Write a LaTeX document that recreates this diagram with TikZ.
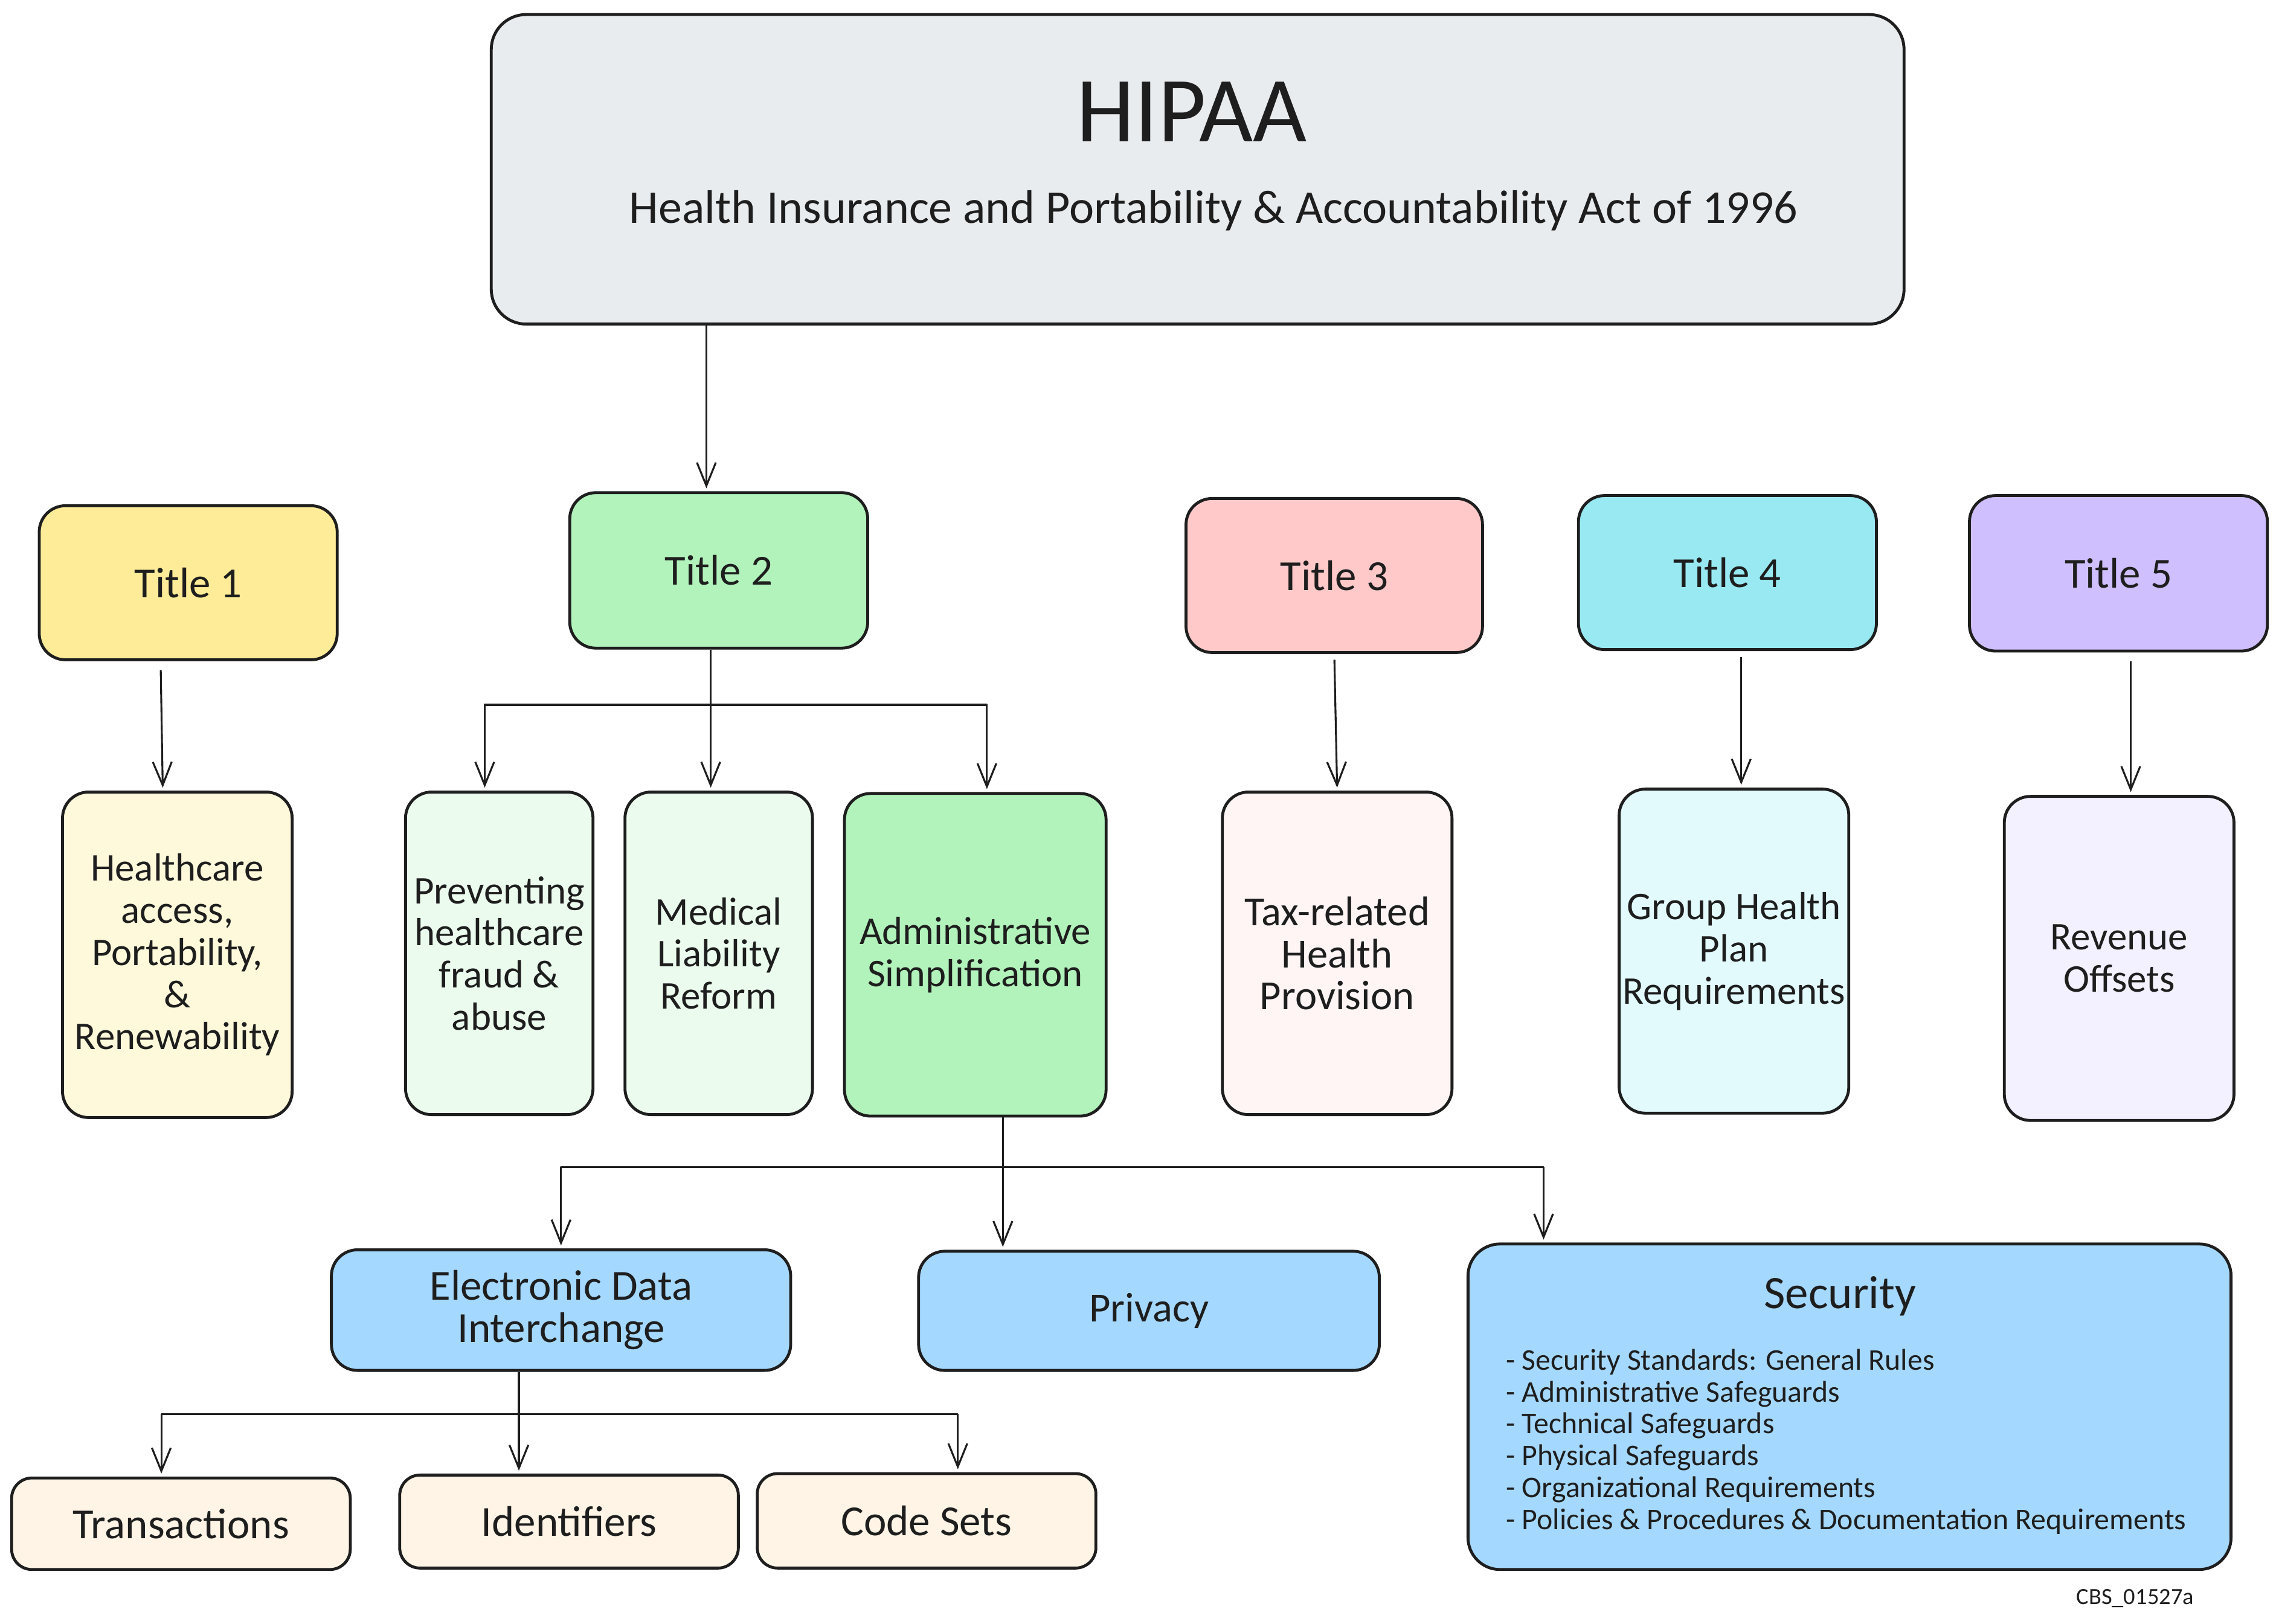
\documentclass[tikz,border=0pt]{standalone}
\usepackage{fontspec}
\setmainfont{Carlito}
\usetikzlibrary{arrows.meta,calc}
\definecolor{ink}{HTML}{1E1E1E}
\definecolor{cTop}{HTML}{E9ECEF}
\definecolor{cYel}{HTML}{FFEC99}
\definecolor{cGrn}{HTML}{B2F2BB}
\definecolor{cRed}{HTML}{FFC9C9}
\definecolor{cCya}{HTML}{99E9F2}
\definecolor{cVio}{HTML}{D0BFFF}
\definecolor{cYelL}{HTML}{FFF9DB}
\definecolor{cGrnL}{HTML}{EBFBEE}
\definecolor{cRedL}{HTML}{FFF5F5}
\definecolor{cCyaL}{HTML}{E3FAFC}
\definecolor{cVioL}{HTML}{F3F0FF}
\definecolor{cBlue}{HTML}{A5D8FF}
\definecolor{cOra}{HTML}{FFF4E6}
\begin{document}
\begin{tikzpicture}[x=1pt,y=-1pt,
  box/.style={draw=ink, line width=2pt, rounded corners=18pt, align=center, text=ink, inner sep=0pt, font=\fontsize{27}{29}\selectfont},
  big/.style={font=\fontsize{29.5}{29}\selectfont},
  arr/.style={draw=ink, line width=1.3pt, line join=round, shorten >=2pt, -{Straight Barb[length=16pt,width=13pt,line width=1.3pt]}},
  ln/.style={draw=ink, line width=1.3pt},
  txt/.style={text=ink, inner sep=0pt}]
\useasboundingbox (0,0) rectangle (1568,1117.5);
\fill[white] (0,0) rectangle (1568,1117.5);

% top
\node[box, fill=cTop, minimum width=972, minimum height=213, rounded corners=24pt] (top) at (824,116.5) {};
\node[txt, font=\fontsize{64}{64}\selectfont] (hipaa) at (820,77) {HIPAA};
\node[txt, font=\fontsize{32.4}{34}\selectfont] (sub) at (835,145) {Health Insurance and Portability \& Accountability Act of 1996};

% titles
\node[box, big, fill=cYel, minimum width=205, minimum height=106] (t1) at (129.5,401) {Title 1};
\node[box, big, fill=cGrn, minimum width=205, minimum height=107] (t2) at (494.5,392.5) {Title 2};
\node[box, big, fill=cRed, minimum width=204, minimum height=106] (t3) at (918,396) {Title 3};
\node[box, big, fill=cCya, minimum width=205, minimum height=106] (t4) at (1188.5,394) {Title 4};
\node[box, big, fill=cVio, minimum width=205, minimum height=107] (t5) at (1457.5,394.5) {Title 5};

% row 2
\node[box, fill=cYelL, minimum width=158, minimum height=224] (hc) at (122,657) {Healthcare\\access,\\Portability,\\\&\\Renewability};
\node[box, fill=cGrnL, minimum width=129, minimum height=222] (prev) at (343.5,656) {Preventing\\healthcare\\fraud \&\\abuse};
\node[box, fill=cGrnL, minimum width=129, minimum height=222] (med) at (494.5,656) {Medical\\Liability\\Reform};
\node[box, fill=cGrn, minimum width=180, minimum height=222] (adm) at (671,657) {Administrative\\Simplification};
\node[box, fill=cRedL, minimum width=158, minimum height=222, font=\fontsize{28.5}{29}\selectfont] (tax) at (920,656) {Tax-related\\Health\\Provision};
\node[box, fill=cCyaL, minimum width=158, minimum height=223] (grp) at (1193,654.5) {Group Health\\Plan\\Requirements};
\node[box, fill=cVioL, minimum width=158, minimum height=223] (rev) at (1458,659.5) {Revenue\\Offsets};

% row 3
\node[box, big, fill=cBlue, minimum width=316, minimum height=83] (edi) at (386,901.5) {Electronic Data\\Interchange};
\node[box, fill=cBlue, minimum width=317, minimum height=82, font=\fontsize{28.5}{29}\selectfont] (priv) at (790.5,902) {Privacy};
\node[box, fill=cBlue, minimum width=525, minimum height=224, rounded corners=22pt] (sec) at (1272.5,968) {};
\node[txt, font=\fontsize{32}{34}\selectfont] (sectitle) at (1266,892) {Security};
\node[txt, anchor=north west, align=left, font=\fontsize{20.7}{22}\selectfont] (seclist) at (1036,928)
  {- Security Standards: General Rules\\- Administrative Safeguards\\- Technical Safeguards\\- Physical Safeguards\\- Organizational Requirements\\- Policies \& Procedures \& Documentation Requirements};

% row 4
\node[box, big, fill=cOra, minimum width=233, minimum height=63, rounded corners=14pt] (tr) at (124.5,1048.5) {Transactions};
\node[box, big, fill=cOra, minimum width=233, minimum height=64, rounded corners=14pt] (id) at (391.5,1047) {Identifiers};
\node[box, big, fill=cOra, minimum width=233, minimum height=65, rounded corners=14pt] (cs) at (637.5,1046.5) {Code Sets};

\node[txt, font=\fontsize{16}{17}\selectfont] (cbs) at (1469,1100) {CBS\_01527a};

% connectors
\draw[arr] (top.south -| 486,0) -- (t2.north -| 486,0);
\draw[arr, shorten <=6pt] ($(t1.south)+(-19,0)$) -- ($(hc.north)+(-10,0)$);
\draw[arr, shorten <=4pt] (t3.south) -- (tax.north);
\draw[arr, shorten <=4pt] ($(t4.south)+(9.5,0)$) -- ($(grp.north)+(5,0)$);
\draw[arr, shorten <=6pt] ($(t5.south)+(8.5,0)$) -- ($(rev.north)+(8,0)$);

\coordinate (j2) at (489,485);
\draw[ln] (t2.south -| j2) -- (j2);
\draw[arr] (j2) -| ($(prev.north)+(-10,0)$);
\draw[arr] (j2) -- (med.north -| j2);
\draw[arr] (j2) -| ($(adm.north)+(8,0)$);

\coordinate (j3) at (690,803);
\draw[ln] (adm.south -| j3) -- (j3);
\draw[arr] (j3) -| (edi.north);
\draw[arr] (j3) -- (priv.north -| j3);
\draw[arr] (j3) -| ($(sec.north)+(-210.5,0)$);

\coordinate (j4) at (357,973);
\draw[ln] (edi.south -| j4) -- (j4);
\draw[arr] (j4) -| ($(tr.north)+(-13.5,0)$);
\draw[arr] (j4) -- (id.north -| j4);
\draw[arr] (j4) -| ($(cs.north)+(21.5,0)$);
\end{tikzpicture}
\end{document}
